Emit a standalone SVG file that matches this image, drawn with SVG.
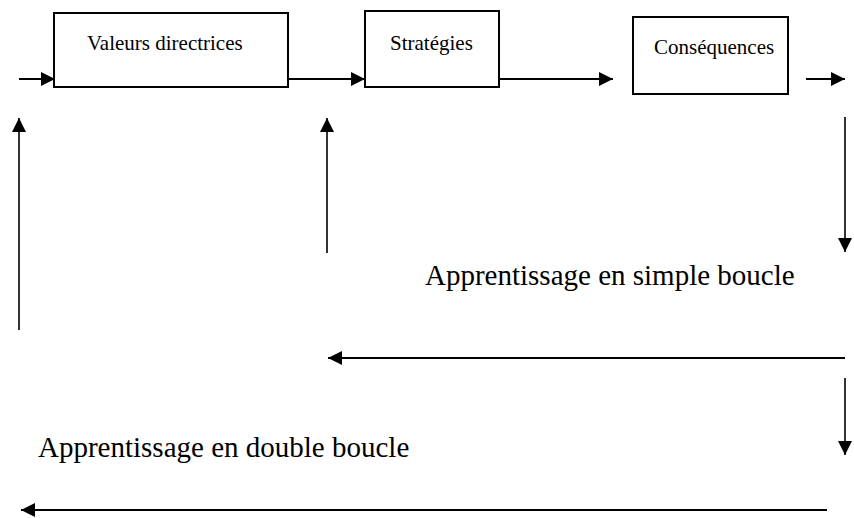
<svg xmlns="http://www.w3.org/2000/svg" width="854" height="518" viewBox="0 0 854 518">
<defs>
<style>
.box{fill:#fff;stroke:#000;stroke-width:2}
.bt{font-family:"Liberation Serif","Times New Roman",serif;font-size:21px;fill:#000}
.lt{font-family:"Liberation Serif","Times New Roman",serif;font-size:29px;fill:#000}
.c{stroke:#000;stroke-width:2;fill:none;marker-end:url(#ah)}
.v{stroke-width:1.6}
</style>
<marker id="ah" markerUnits="userSpaceOnUse" markerWidth="15" markerHeight="15" refX="14" refY="7" orient="auto">
<path d="M0,0 L14,7 L0,14 z" fill="#000"/>
</marker>
</defs>
<rect width="854" height="518" fill="#fff"/>
<g id="connectors">
<line class="c" x1="19" y1="79" x2="55" y2="79"/>
<line class="c" x1="288" y1="79" x2="365" y2="79"/>
<line class="c" x1="500" y1="79" x2="613" y2="79"/>
<line class="c" x1="806" y1="79" x2="845" y2="79"/>
<line class="c v" x1="19" y1="330" x2="19" y2="118"/>
<line class="c v" x1="327" y1="253" x2="327" y2="118"/>
<line class="c v" x1="845" y1="117" x2="845" y2="252"/>
<line class="c" x1="845" y1="358" x2="328" y2="358"/>
<line class="c v" x1="845" y1="378" x2="845" y2="455"/>
<line class="c" x1="827" y1="510" x2="21" y2="510"/>
</g>
<g id="valeurs">
<rect class="box" x="54" y="13" width="234" height="74"/>
<text class="bt" x="87" y="50">Valeurs directrices</text>
</g>
<g id="strategies">
<rect class="box" x="365" y="11" width="134" height="76"/>
<text class="bt" x="390" y="50">Stratégies</text>
</g>
<g id="consequences">
<rect class="box" x="633" y="17" width="155" height="77"/>
<text class="bt" x="654" y="54">Conséquences</text>
</g>
<g id="labels">
<text class="lt" x="425" y="285">Apprentissage en simple boucle</text>
<text class="lt" x="38" y="457">Apprentissage en double boucle</text>
</g>
</svg>
